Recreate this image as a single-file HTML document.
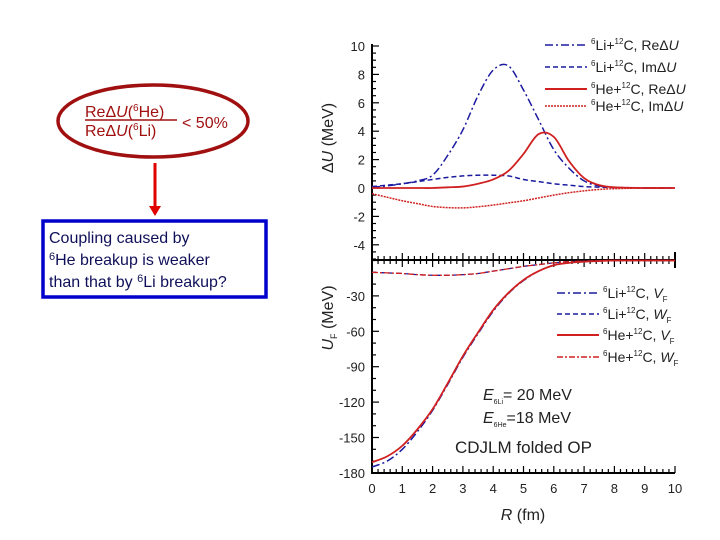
<!DOCTYPE html>
<html><head><meta charset="utf-8"><style>
body{margin:0;background:#fff;}
svg{display:block;font-family:"Liberation Sans",Arial,sans-serif;}
</style></head><body>
<svg id="c" width="720" height="540" viewBox="0 0 720 540">
<ellipse cx="153" cy="121" rx="95" ry="36" fill="none" stroke="#a01010" stroke-width="3.5"/>
<text x="85" y="117" font-size="16" fill="#a01010">ReΔ<tspan font-style="italic">U</tspan>(<tspan font-size="10" dy="-6">6</tspan><tspan dy="6">He)</tspan></text>
<line x1="85" y1="120" x2="177" y2="120" stroke="#a01010" stroke-width="1.5"/>
<text x="85" y="136" font-size="16" fill="#a01010">ReΔ<tspan font-style="italic">U</tspan>(<tspan font-size="10" dy="-6">6</tspan><tspan dy="6">Li)</tspan></text>
<text x="182" y="128" font-size="16" fill="#a01010">&lt; 50%</text>
<line x1="155" y1="163" x2="155" y2="207" stroke="#e00000" stroke-width="3"/>
<polygon points="149,206 161,206 155,216" fill="#e00000"/>
<rect x="43" y="221" width="223" height="76" fill="#fff" stroke="#0000cc" stroke-width="3.5"/>
<g font-size="16" fill="#10105a">
<text x="49" y="243">Coupling caused by</text>
<text x="49" y="265"><tspan font-size="11" dy="-5">6</tspan><tspan dy="5">He breakup is weaker</tspan></text>
<text x="49" y="287">than that by <tspan font-size="11" dy="-5">6</tspan><tspan dy="5">Li breakup?</tspan></text>
</g>
<g id="plot"></g>
</svg>
<script>
const R = [0,0.5,1,1.5,2,2.5,3,3.5,4,4.5,5,5.5,6,6.5,7,7.5,8,9,10];
const reLi = [0.05,0.15,0.3,0.5,0.9,2.3,4.1,6.5,8.3,8.6,6.9,4.8,2.7,1.4,0.5,0.15,0.05,0,0];
const imLi = [0.1,0.2,0.3,0.45,0.6,0.75,0.85,0.9,0.9,0.85,0.6,0.45,0.3,0.2,0.1,0.06,0.03,0,0];
const reHe = [0,0,0,0,0,0.05,0.1,0.3,0.6,1.2,2.4,3.8,3.6,1.9,0.7,0.2,0.05,0,0];
const imHe = [-0.4,-0.65,-0.9,-1.1,-1.3,-1.38,-1.4,-1.32,-1.2,-1.05,-0.9,-0.7,-0.5,-0.33,-0.2,-0.1,-0.05,0,0];
const vLi = [-175,-170,-160,-145,-127,-105,-82,-62,-43,-28,-17,-9,-4,-2,-1,-0.4,0,0,0];
const vHe = [-171,-166,-157,-143,-126,-104,-81,-61,-42,-27.5,-16.5,-9,-4,-2,-1,-0.4,0,0,0];
const wLi = [-10,-10.5,-11,-12,-12.5,-12.5,-12,-11,-9,-7,-5,-3.5,-2,-1,-0.5,-0.2,0,0,0];
const wHe = [-10,-10.5,-11,-12,-12.5,-12.5,-12,-11,-9,-7,-5,-3.5,-2,-1,-0.5,-0.2,0,0,0];
const topTicks = [10,8,6,4,2,0,-2,-4];
const botTicks = [-30,-60,-90,-120,-150,-180];
const xTicks = [0,1,2,3,4,5,6,7,8,9,10];

const NS='http://www.w3.org/2000/svg';
const g=document.getElementById('plot');
const X=v=>372+v*30.3;
const YT=v=>188-v*14.2;
const YB=v=>260.5-v*1.18;
function el(t,a,txt){const e=document.createElementNS(NS,t);for(const k in a)e.setAttribute(k,a[k]);if(txt!=null)e.textContent=txt;g.appendChild(e);return e;}
function path(xs,ys,fx,fy){const p=xs.map((x,i)=>[fx(x),fy(ys[i])]);let d='M'+p[0][0]+','+p[0][1];
 for(let i=0;i<p.length-1;i++){const p0=p[Math.max(0,i-1)],p1=p[i],p2=p[i+1],p3=p[Math.min(p.length-1,i+2)];
 d+=' C'+(p1[0]+(p2[0]-p0[0])/6)+','+(p1[1]+(p2[1]-p0[1])/6)+' '+(p2[0]-(p3[0]-p1[0])/6)+','+(p2[1]-(p3[1]-p1[1])/6)+' '+p2[0]+','+p2[1];}
 return d;}
let e;
e=el('line',{x1:372,y1:44,x2:372,y2:474,stroke:'#000','stroke-width':2});


e=el('line',{x1:372,y1:260,x2:675,y2:260,stroke:'#000','stroke-width':2});


e=el('line',{x1:372,y1:473,x2:675,y2:473,stroke:'#000','stroke-width':2});


e=el('line',{x1:675,y1:252,x2:675,y2:268,stroke:'#000','stroke-width':2});


for(let i=0;i<=50;i++){const x=372+i*30.3/5;const L=i%5==0?7:4;
 el('line',{x1:x,y1:260-L,x2:x,y2:260+L,stroke:'#000','stroke-width':1.2});
 el('line',{x1:x,y1:473,x2:x,y2:473-L,stroke:'#000','stroke-width':1.2});}
for(let v=10;v>=-5;v-=0.5){const y=YT(v);if(y>259)break;el('line',{x1:372,y1:y,x2:372+(v%2==0?7:4),y2:y,stroke:'#000','stroke-width':1.2});}
for(let v=0;v>=-180;v-=10){el('line',{x1:372,y1:YB(v),x2:372+(v%30==0?7:4),y2:YB(v),stroke:'#000','stroke-width':1.2});}
topTicks.forEach(v=>{e=el('text',{x:365,y:YT(v)+5,'font-size':13,'text-anchor':'end',fill:'#222'},v);

});
botTicks.forEach(v=>{e=el('text',{x:365,y:YB(v)+5,'font-size':13,'text-anchor':'end',fill:'#222'},v);

});
xTicks.forEach(v=>{e=el('text',{x:X(v),y:493,'font-size':13,'text-anchor':'middle',fill:'#222'},v);

});
e=el('text',{x:0,y:0,'font-size':16,'text-anchor':'middle',transform:'translate(333,138) rotate(-90)',fill:'#222'});
e.innerHTML='Δ<tspan font-style="italic">U</tspan> (MeV)';


e=el('text',{x:0,y:0,'font-size':16,'text-anchor':'middle',transform:'translate(333,318) rotate(-90)',fill:'#222'});
e.innerHTML='<tspan font-style="italic">U</tspan><tspan font-size="9" dy="4">F</tspan><tspan dy="-4"> (MeV)</tspan>';


e=el('text',{x:523,y:520,'font-size':16,'text-anchor':'middle',fill:'#222'});
e.innerHTML='<tspan font-style="italic">R</tspan> (fm)';


const BL='#1a1aa0',RD='#d02020';
const series=[
 [reLi,YT,BL,'8 3 2 3',1.5,'series-li-re-delta-u'],
 [imLi,YT,BL,'5 3',1.5,'series-li-im-delta-u'],
 [reHe,YT,RD,'',1.8,'series-he-re-delta-u'],
 [imHe,YT,RD,'2 1',1.5,'series-he-im-delta-u'],
 [wLi,YB,BL,'5 3',1.3,'series-li-wf'],
 [wHe,YB,RD,'6 2 2 2',1.3,'series-he-wf'],
 [vLi,YB,BL,'8 3 2 3',1.5,'series-li-vf'],
 [vHe,YB,RD,'',1.8,'series-he-vf']];
series.forEach(s=>{e=el('path',{d:path(R,s[0],X,s[1]),fill:'none',stroke:s[2],'stroke-width':s[4],'stroke-dasharray':s[3]});

});
function legend(x,y,col,dash,w,html,name){el('line',{x1:x,y1:y,x2:x+42,y2:y,stroke:col,'stroke-width':w,'stroke-dasharray':dash});
 e=el('text',{x:x+46,y:y+5,'font-size':14,fill:'#222'});e.innerHTML=html;
 
 }
const sup=s=>'<tspan font-size="8" dy="-6">'+s+'</tspan><tspan dy="6">';
legend(545,45,BL,'8 3 2 3',1.5,sup('6')+'Li+</tspan>'+sup('12')+'C, ReΔ<tspan font-style="italic">U</tspan></tspan>','legend-li-re');
legend(545,67,BL,'5 3',1.5,sup('6')+'Li+</tspan>'+sup('12')+'C, ImΔ<tspan font-style="italic">U</tspan></tspan>','legend-li-im');
legend(545,89,RD,'',2,sup('6')+'He+</tspan>'+sup('12')+'C, ReΔ<tspan font-style="italic">U</tspan></tspan>','legend-he-re');
legend(545,106,RD,'2 1',1.5,sup('6')+'He+</tspan>'+sup('12')+'C, ImΔ<tspan font-style="italic">U</tspan></tspan>','legend-he-im');
const sub=s=>'<tspan font-style="italic">'+s[0]+'</tspan><tspan font-size="8" dy="4">F</tspan>';
legend(557,293,BL,'8 3 2 3',1.5,sup('6')+'Li+</tspan>'+sup('12')+'C, '+sub('V')+'</tspan>','legend-li-vf');
legend(557,314,BL,'5 3',1.5,sup('6')+'Li+</tspan>'+sup('12')+'C, '+sub('W')+'</tspan>','legend-li-wf');
legend(557,335,RD,'',2,sup('6')+'He+</tspan>'+sup('12')+'C, '+sub('V')+'</tspan>','legend-he-vf');
legend(557,357,RD,'6 2 2 2',1.5,sup('6')+'He+</tspan>'+sup('12')+'C, '+sub('W')+'</tspan>','legend-he-wf');
e=el('text',{x:483,y:400,'font-size':16,fill:'#222'});e.innerHTML='<tspan font-style="italic">E</tspan><tspan font-size="7" dy="4">6Li</tspan><tspan dy="-4">= 20 MeV</tspan>';


e=el('text',{x:483,y:423,'font-size':16,fill:'#222'});e.innerHTML='<tspan font-style="italic">E</tspan><tspan font-size="7" dy="4">6He</tspan><tspan dy="-4">=18 MeV</tspan>';


e=el('text',{x:455,y:453,'font-size':17,fill:'#222'},'CDJLM folded OP');


</script>
</body></html>
